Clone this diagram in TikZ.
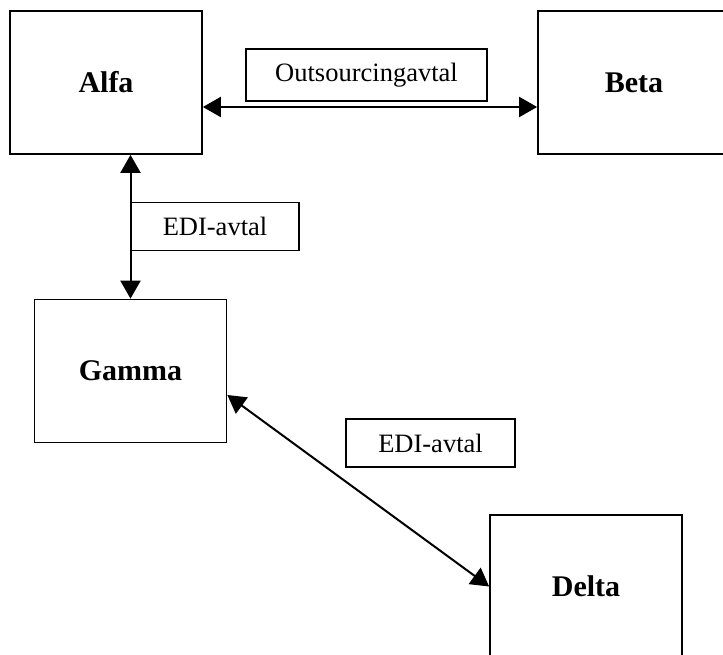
\documentclass[tikz,border=0pt]{standalone}
\usepackage{fontspec}
\setmainfont{Liberation Serif}
\usetikzlibrary{arrows.meta,positioning}

\begin{document}
\begin{tikzpicture}[x=1pt,y=-1pt,
    party/.style={draw,line width=1.7pt,minimum width=192pt,minimum height=143pt,
      font=\fontsize{30}{36}\selectfont\bfseries},
    deal/.style={draw,line width=1.6pt,minimum height=48pt,
      font=\fontsize{26.5}{30}\selectfont},
    link/.style={{Triangle[length=18pt,width=20pt]}-{Triangle[length=18pt,width=20pt]},
      line width=2pt}]
    \clip (0,0) rectangle (723,655);

    \node[party] (alfa) at (106,82.5) {Alfa};
    \node[party] (beta) at (634,82.5) {Beta};
    \node[party] (gamma) at (130.5,371) {Gamma};
    \node[party] (delta) at (586,586.5) {Delta};

    \node[deal,minimum width=241pt,minimum height=52pt] (outs) at (366.5,75) {Outsourcingavtal};
    \node[deal,minimum width=168pt] (edi1) at (215,226.5) {EDI-avtal};
    \node[deal,minimum width=169pt] (edi2) at (430.5,443) {EDI-avtal};

    \draw[link] ([yshift=-24.5pt]alfa.east) -- ([yshift=-24.5pt]beta.west);
    \draw[link] (gamma.north |- alfa.south) -- (gamma.north);
    \draw[link] ([yshift=-24pt]gamma.east) -- (delta.west);
\end{tikzpicture}
\end{document}
